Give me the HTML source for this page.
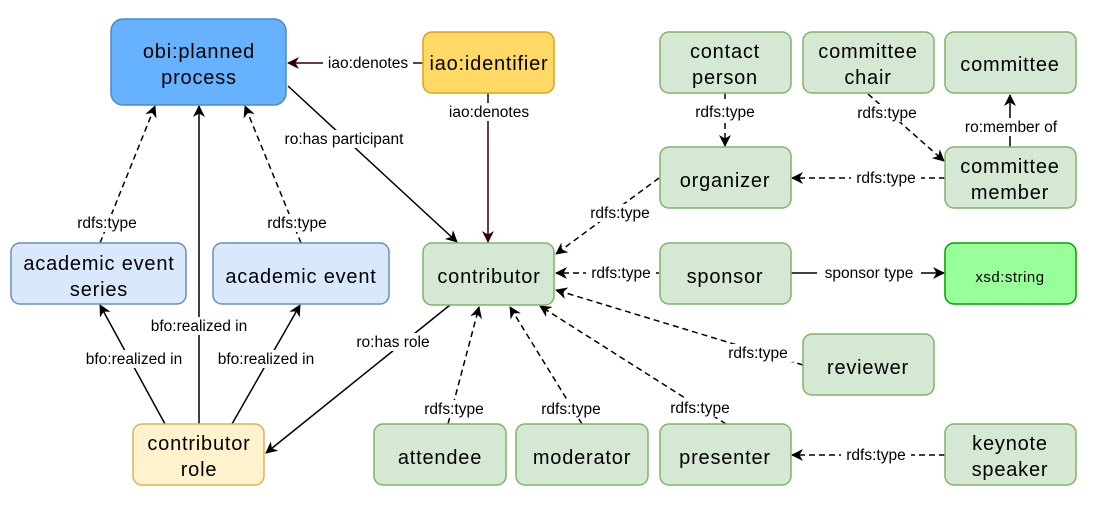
<!DOCTYPE html>
<html><head><meta charset="utf-8"><style>
html,body{margin:0;padding:0;background:#fff;}
svg{display:block;}
.n{font-family:"Liberation Sans",Arial,sans-serif;font-size:20px;fill:#000;text-anchor:middle;letter-spacing:0.8px}
.l{font-family:"Liberation Sans",Arial,sans-serif;font-size:15.5px;fill:#000;text-anchor:middle}
.lb{fill:#fff}
</style></head><body>
<svg width="1101" height="507" viewBox="0 0 1101 507" xmlns="http://www.w3.org/2000/svg">
<defs>
<marker id="a" viewBox="0 0 12 12" refX="11" refY="6" markerWidth="12" markerHeight="12" markerUnits="userSpaceOnUse" orient="auto"><path d="M0,0 L12,6 L0,12 L3.5,6 z" fill="#000"/></marker>
<marker id="r" viewBox="0 0 12 12" refX="11" refY="6" markerWidth="12" markerHeight="12" markerUnits="userSpaceOnUse" orient="auto"><path d="M0,0 L12,6 L0,12 L3.5,6 z" fill="#330000"/></marker>
</defs>
<g stroke-width="1.5" fill="none">
<line x1="423" y1="63" x2="288" y2="63" stroke="#330000" marker-end="url(#r)"/>
<line x1="488" y1="93" x2="488" y2="242" stroke="#330000" marker-end="url(#r)"/>
<g stroke="#000">
<line x1="288" y1="86" x2="457" y2="242" marker-end="url(#a)"/>
<line x1="100" y1="243" x2="155" y2="106" stroke-dasharray="6,4" marker-end="url(#a)"/>
<line x1="301" y1="243" x2="245" y2="106" stroke-dasharray="6,4" marker-end="url(#a)"/>
<line x1="199" y1="424" x2="199" y2="106" marker-end="url(#a)"/>
<line x1="165" y1="424" x2="100" y2="305" marker-end="url(#a)"/>
<line x1="232" y1="424" x2="300" y2="305" marker-end="url(#a)"/>
<line x1="450" y1="305" x2="266" y2="453" marker-end="url(#a)"/>
<line x1="725" y1="93" x2="725" y2="146" stroke-dasharray="6,4" marker-end="url(#a)"/>
<line x1="868" y1="94" x2="944" y2="161" stroke-dasharray="6,4" marker-end="url(#a)"/>
<line x1="1010" y1="147" x2="1010" y2="95" marker-end="url(#a)"/>
<line x1="945" y1="178" x2="792" y2="178" stroke-dasharray="6,4" marker-end="url(#a)"/>
<line x1="659" y1="178" x2="556" y2="254" stroke-dasharray="6,4" marker-end="url(#a)"/>
<line x1="659" y1="273" x2="556" y2="273" stroke-dasharray="6,4" marker-end="url(#a)"/>
<line x1="791" y1="273" x2="944" y2="273" marker-end="url(#a)"/>
<line x1="803" y1="365" x2="556" y2="290" stroke-dasharray="6,4" marker-end="url(#a)"/>
<line x1="448" y1="424" x2="479" y2="307" stroke-dasharray="6,4" marker-end="url(#a)"/>
<line x1="582" y1="424" x2="510" y2="307" stroke-dasharray="6,4" marker-end="url(#a)"/>
<line x1="726" y1="424" x2="540" y2="306" stroke-dasharray="6,4" marker-end="url(#a)"/>
<line x1="945" y1="455" x2="792" y2="455" stroke-dasharray="6,4" marker-end="url(#a)"/>
</g>
</g>
<g class="lb">
<rect x="323" y="54" width="90" height="18"/>
<rect x="444" y="103" width="90" height="18"/>
<rect x="276" y="130" width="136" height="18"/>
<rect x="72" y="214" width="70" height="18"/>
<rect x="262" y="214" width="70" height="18"/>
<rect x="142" y="317" width="114" height="18"/>
<rect x="78" y="350" width="112" height="18"/>
<rect x="210" y="350" width="112" height="18"/>
<rect x="349" y="333" width="88" height="18"/>
<rect x="690" y="103" width="70" height="18"/>
<rect x="852" y="104" width="70" height="18"/>
<rect x="959" y="118" width="104" height="18"/>
<rect x="851" y="169" width="70" height="18"/>
<rect x="585" y="204" width="70" height="18"/>
<rect x="586" y="264" width="70" height="18"/>
<rect x="817" y="264" width="104" height="18"/>
<rect x="723" y="344" width="70" height="18"/>
<rect x="419" y="400" width="70" height="18"/>
<rect x="536" y="400" width="70" height="18"/>
<rect x="665" y="399" width="70" height="18"/>
<rect x="841" y="446" width="70" height="18"/>
</g>
<g class="l">
<text x="368" y="68">iao:denotes</text>
<text x="489" y="117">iao:denotes</text>
<text x="344" y="144">ro:has participant</text>
<text x="107" y="228">rdfs:type</text>
<text x="297" y="228">rdfs:type</text>
<text x="199" y="331">bfo:realized in</text>
<text x="134" y="364">bfo:realized in</text>
<text x="266" y="364">bfo:realized in</text>
<text x="393" y="347">ro:has role</text>
<text x="725" y="117">rdfs:type</text>
<text x="887" y="118">rdfs:type</text>
<text x="1011" y="132">ro:member of</text>
<text x="886" y="183">rdfs:type</text>
<text x="620" y="218">rdfs:type</text>
<text x="621" y="278">rdfs:type</text>
<text x="869" y="278">sponsor type</text>
<text x="758" y="358">rdfs:type</text>
<text x="454" y="414">rdfs:type</text>
<text x="571" y="414">rdfs:type</text>
<text x="700" y="413">rdfs:type</text>
<text x="876" y="460">rdfs:type</text>
</g>
<g stroke-width="1.5">
<rect x="111" y="19" width="175" height="86" rx="12" fill="#66b2ff" stroke="#4f88c6"/>
<rect x="423" y="32" width="131" height="61" rx="9" fill="#ffd966" stroke="#d6a618"/>
<g fill="#d5e8d4" stroke="#82b366">
<rect x="660" y="32" width="131" height="61" rx="9"/>
<rect x="803" y="32" width="131" height="61" rx="9"/>
<rect x="945" y="32" width="131" height="61" rx="9"/>
<rect x="660" y="147" width="131" height="61" rx="9"/>
<rect x="945" y="147" width="131" height="61" rx="9"/>
<rect x="423" y="243" width="131" height="62" rx="9"/>
<rect x="660" y="243" width="131" height="61" rx="9"/>
<rect x="803" y="334" width="131" height="61" rx="9"/>
<rect x="374" y="424" width="132" height="61" rx="9"/>
<rect x="516" y="424" width="132" height="61" rx="9"/>
<rect x="660" y="424" width="131" height="61" rx="9"/>
<rect x="945" y="424" width="131" height="61" rx="9"/>
</g>
<rect x="945" y="243" width="131" height="61" rx="9" fill="#99ff99" stroke="#00a000"/>
<rect x="11" y="243" width="175" height="61" rx="9" fill="#dae8fc" stroke="#6c8ebf"/>
<rect x="213" y="243" width="176" height="61" rx="9" fill="#dae8fc" stroke="#6c8ebf"/>
<rect x="133" y="424" width="131" height="61" rx="9" fill="#fff2cc" stroke="#d6b656"/>
</g>
<g class="n">
<text x="199" y="58">obi:planned</text>
<text x="199" y="84">process</text>
<text x="489" y="70">iao:identifier</text>
<text x="725" y="58">contact</text>
<text x="725" y="84">person</text>
<text x="868" y="58">committee</text>
<text x="868" y="84">chair</text>
<text x="1010" y="71">committee</text>
<text x="725" y="187">organizer</text>
<text x="1010" y="173">committee</text>
<text x="1010" y="199">member</text>
<text x="489" y="283">contributor</text>
<text x="725" y="283">sponsor</text>
<text x="1010" y="282" style="font-size:15px;letter-spacing:0.5px">xsd:string</text>
<text x="99" y="270">academic event</text>
<text x="99" y="296">series</text>
<text x="301" y="283">academic event</text>
<text x="868" y="374">reviewer</text>
<text x="199" y="450">contributor</text>
<text x="199" y="476">role</text>
<text x="440" y="464">attendee</text>
<text x="582" y="464">moderator</text>
<text x="725" y="464">presenter</text>
<text x="1010" y="450">keynote</text>
<text x="1010" y="476">speaker</text>
</g>
</svg>
</body></html>
